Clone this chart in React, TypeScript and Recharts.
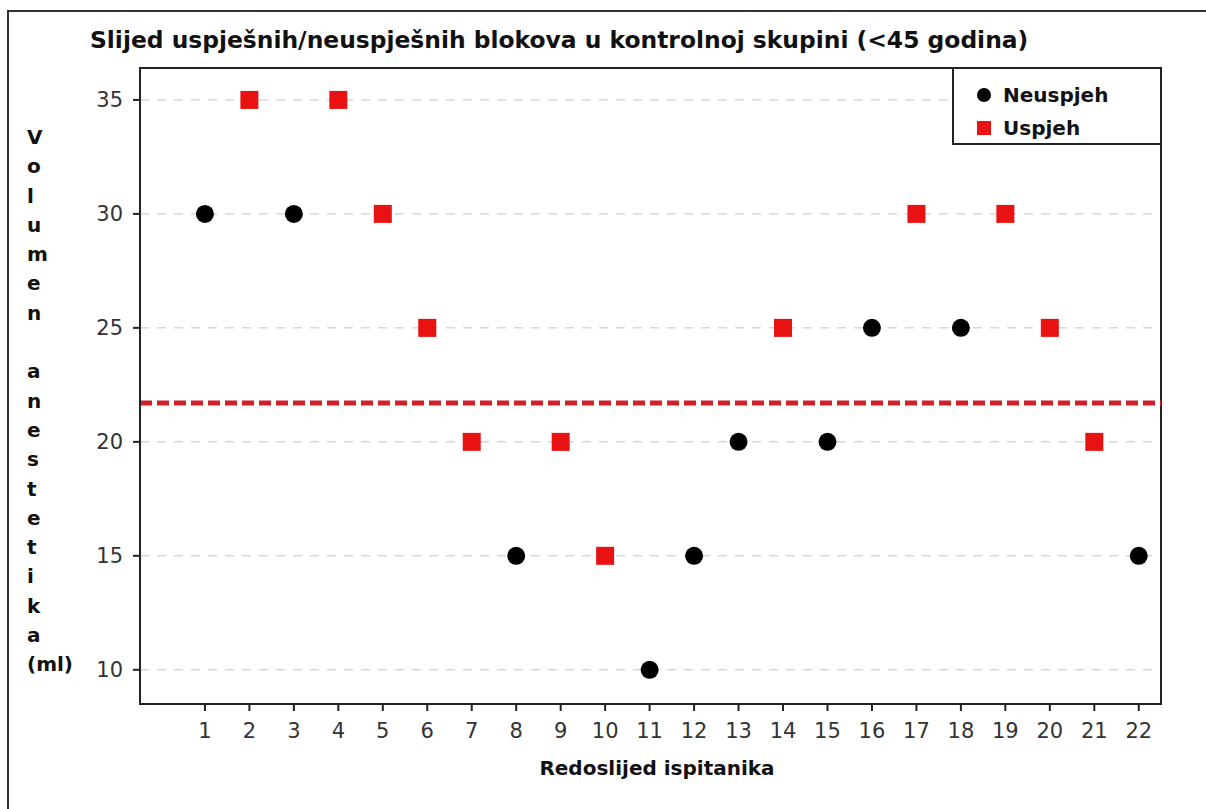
import { ScatterChart, Scatter, XAxis, YAxis, CartesianGrid, ReferenceLine, ReferenceArea } from 'recharts';

// Slijed uspjesnih/neuspjesnih blokova - kontrolna skupina (<45 godina)
const title = 'Slijed uspješnih/neuspješnih blokova u kontrolnoj skupini (<45 godina)';
const xLabel = 'Redoslijed ispitanika';
const yLabelLines = ['V', 'o', 'l', 'u', 'm', 'e', 'n', '', 'a', 'n', 'e', 's', 't', 'e', 't', 'i', 'k', 'a', '(ml)'];

const xTicks = [1, 2, 3, 4, 5, 6, 7, 8, 9, 10, 11, 12, 13, 14, 15, 16, 17, 18, 19, 20, 21, 22];
const yTicks = [10, 15, 20, 25, 30, 35];
const xDomain = [-0.46, 22.5];
const yDomain = [8.5, 36.4];

const neuspjehX = [1, 3, 8, 11, 12, 13, 15, 16, 18, 22];
const neuspjehY = [30, 30, 15, 10, 15, 20, 20, 25, 25, 15];
const uspjehX = [2, 4, 5, 6, 7, 9, 10, 14, 17, 19, 20, 21];
const uspjehY = [35, 35, 30, 25, 20, 20, 15, 25, 30, 30, 25, 20];

const granica = 21.7;

const neuspjeh = neuspjehX.map((x, i) => ({ x, y: neuspjehY[i] }));
const uspjeh = uspjehX.map((x, i) => ({ x, y: uspjehY[i] }));

const RED = '#e81212';
const BLACK = '#000000';
const boldFont = '"DejaVu Sans", sans-serif';

const Dot = (props: any) => <circle cx={props.cx} cy={props.cy} r={9} fill={BLACK} />;
const Box = (props: any) => <rect x={props.cx - 9} y={props.cy - 9} width={18} height={18} fill={RED} />;

export default function App() {
  return (
    <div style={{ position: 'absolute', left: 0, top: 0, width: 1206, height: 809, background: '#fff', overflow: 'hidden' }}>
      {/* outer frame (only left and top edges are visible) */}
      <div style={{ position: 'absolute', left: 7, top: 10, width: 1220, height: 820, borderLeft: '2px solid #333', borderTop: '2px solid #333' }} />

      <div style={{ position: 'absolute', left: 90, top: 29, fontFamily: boldFont, fontWeight: 'bold', fontSize: 23.4, lineHeight: '23px', color: '#111', whiteSpace: 'nowrap' }}>
        {title}
      </div>

      <div style={{ position: 'absolute', left: 27, top: 123, fontFamily: boldFont, fontWeight: 'bold', fontSize: 20, color: '#111' }}>
        {yLabelLines.map((s, i) => (
          <div key={i} style={{ height: 29.3, lineHeight: '29.3px' }}>{s || '\u00a0'}</div>
        ))}
      </div>

      <div style={{ position: 'absolute', left: 457, width: 400, top: 758, textAlign: 'center', fontFamily: boldFont, fontWeight: 'bold', fontSize: 20, lineHeight: '20px', color: '#111' }}>
        {xLabel}
      </div>

      <ScatterChart width={1206} height={809} margin={{ top: 68, right: 45, bottom: 55, left: 70 }}>
        <CartesianGrid vertical={false} stroke="#c4c4c4" strokeDasharray="9 8" />
        <XAxis
          type="number"
          dataKey="x"
          domain={xDomain}
          ticks={xTicks}
          interval={0}
          allowDataOverflow
          height={50}
          axisLine={{ stroke: '#222', strokeWidth: 2 }}
          tickLine={{ stroke: '#222', strokeWidth: 2 }}
          tickSize={7}
          tickMargin={12}
          tick={{ fill: '#333', fontSize: 21, fontFamily: '"DejaVu Sans", sans-serif' }}
        />
        <YAxis
          type="number"
          dataKey="y"
          domain={yDomain}
          ticks={yTicks}
          interval={0}
          allowDataOverflow
          width={70}
          axisLine={{ stroke: '#222', strokeWidth: 2 }}
          tickLine={{ stroke: '#222', strokeWidth: 2 }}
          tickSize={7}
          tickMargin={10}
          tick={{ fill: '#333', fontSize: 21, fontFamily: '"DejaVu Sans", sans-serif' }}
        />
        <ReferenceArea
          x1={xDomain[0]}
          x2={xDomain[1]}
          y1={yDomain[0]}
          y2={yDomain[1]}
          fill="none"
          stroke="#222"
          strokeWidth={2}
          ifOverflow="visible"
        />
        <ReferenceLine y={granica} stroke="#d0202a" strokeWidth={5} strokeDasharray="12 5" />
        <Scatter name="Neuspjeh" data={neuspjeh} shape={Dot} isAnimationActive={false} />
        <Scatter name="Uspjeh" data={uspjeh} shape={Box} isAnimationActive={false} />
      </ScatterChart>

      {/* legend */}
      <div style={{ position: 'absolute', left: 952, top: 67, width: 206, height: 74, border: '2px solid #222', background: '#fff', fontFamily: boldFont, fontWeight: 'bold', fontSize: 20, color: '#111' }}>
        <div style={{ position: 'absolute', left: 23, top: 19, width: 14, height: 14, borderRadius: 7, background: BLACK }} />
        <div style={{ position: 'absolute', left: 49, top: 13, lineHeight: '26px' }}>Neuspjeh</div>
        <div style={{ position: 'absolute', left: 23, top: 52, width: 14, height: 14, background: RED }} />
        <div style={{ position: 'absolute', left: 49, top: 46, lineHeight: '26px' }}>Uspjeh</div>
      </div>
    </div>
  );
}
